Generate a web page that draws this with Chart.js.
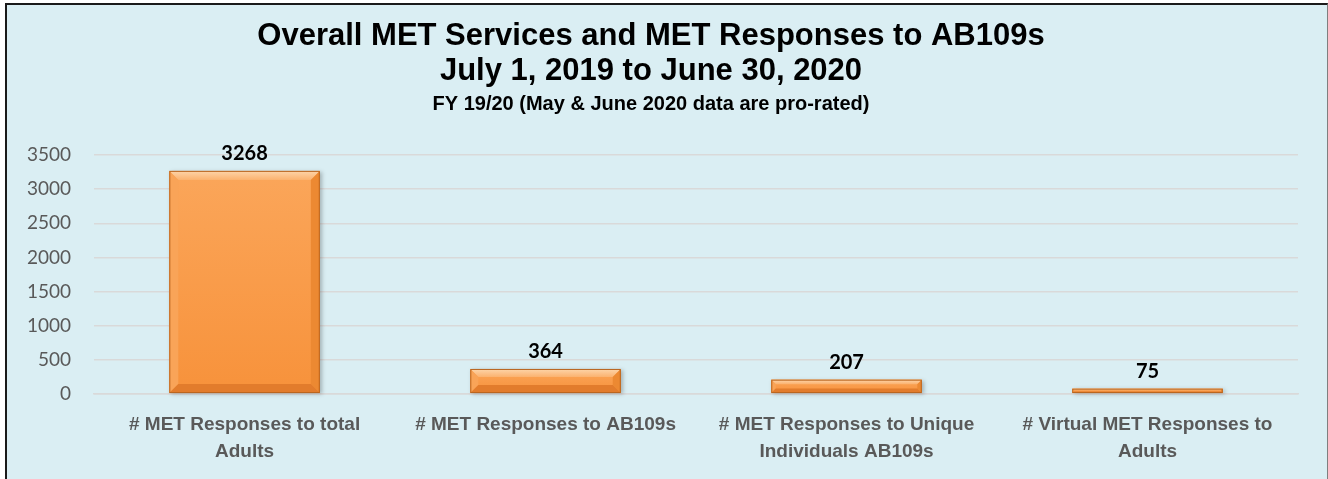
<!DOCTYPE html>
<html>
<head>
<meta charset="utf-8">
<script src="https://cdn.jsdelivr.net/npm/chart.js@4.4.1/dist/chart.umd.min.js"></script>
<style>
  html, body { margin: 0; padding: 0; background: #ffffff; width: 1328px; height: 479px; overflow: hidden; }
  #frame { position: absolute; left: 5px; top: 3px; width: 1323px; height: 490px; box-sizing: border-box;
           border: 2px solid #1a1a1a; border-right: 1px solid #7f7f7f; background: #DAEEF3; }
  #wrap { position: absolute; left: 0; top: 0; width: 1328px; height: 479px; }
</style>
</head>
<body>
<div id="frame"></div>
<div id="wrap"><canvas id="c" width="1328" height="479"></canvas></div>
<script>
const categories = [
  ["# MET Responses to total", "Adults"],
  ["# MET Responses to AB109s"],
  ["# MET Responses to Unique", "Individuals AB109s"],
  ["# Virtual MET Responses to", "Adults"]
];
const values = [3268, 364, 207, 75];
const yTicks = [0, 500, 1000, 1500, 2000, 2500, 3000, 3500];
const titleLines = ["Overall MET Services and MET Responses to AB109s", "July 1, 2019 to June 30, 2020"];
const subtitleText = "FY 19/20 (May & June 2020 data are pro-rated)";

const bevelPlugin = {
  id: 'bevel',
  afterDatasetsDraw(chart) {
    const ctx = chart.ctx;
    const meta = chart.getDatasetMeta(0);
    meta.data.forEach((bar) => {
      const w = bar.width;
      const l = bar.x - w / 2, r = bar.x + w / 2, t = bar.y, b = bar.base;
      const h = b - t;
      const e = Math.min(9, h / 3);
      ctx.save();
      ctx.shadowColor = 'rgba(0,0,0,0.25)';
      ctx.shadowBlur = 4;
      ctx.shadowOffsetX = 2;
      ctx.shadowOffsetY = 1;
      const g = ctx.createLinearGradient(0, t, 0, b);
      g.addColorStop(0, '#FBA65A');
      g.addColorStop(1, '#F7923B');
      ctx.fillStyle = g;
      ctx.fillRect(l, t, w, h);
      ctx.shadowColor = 'transparent';
      const gt = ctx.createLinearGradient(0, t, 0, t + e);
      gt.addColorStop(0, '#FDD5AA');
      gt.addColorStop(1, '#FBB26F');
      ctx.fillStyle = gt;
      ctx.beginPath(); ctx.moveTo(l, t); ctx.lineTo(r, t); ctx.lineTo(r - e, t + e); ctx.lineTo(l + e, t + e); ctx.closePath(); ctx.fill();
      ctx.fillStyle = '#F9A458';
      ctx.beginPath(); ctx.moveTo(l, t); ctx.lineTo(l + e, t + e); ctx.lineTo(l + e, b - e); ctx.lineTo(l, b); ctx.closePath(); ctx.fill();
      ctx.fillStyle = '#EC8932';
      ctx.beginPath(); ctx.moveTo(r, t); ctx.lineTo(r - e, t + e); ctx.lineTo(r - e, b - e); ctx.lineTo(r, b); ctx.closePath(); ctx.fill();
      ctx.fillStyle = '#E27C2C';
      ctx.beginPath(); ctx.moveTo(l, b); ctx.lineTo(r, b); ctx.lineTo(r - e, b - e); ctx.lineTo(l + e, b - e); ctx.closePath(); ctx.fill();
      ctx.strokeStyle = '#B9651F';
      ctx.lineWidth = 1;
      ctx.strokeRect(l + 0.5, t + 0.5, w - 1, h - 1);
      ctx.restore();
    });
  }
};

const labelPlugin = {
  id: 'valueLabels',
  afterDatasetsDraw(chart) {
    const ctx = chart.ctx;
    const meta = chart.getDatasetMeta(0);
    ctx.save();
    ctx.font = 'bold 20px Lato, "Liberation Sans", sans-serif';
    ctx.fillStyle = '#000000';
    ctx.textAlign = 'center';
    ctx.textBaseline = 'bottom';
    meta.data.forEach((bar, i) => {
      ctx.fillText(String(values[i]), bar.x, bar.y - 7);
    });
    ctx.restore();
  }
};

new Chart(document.getElementById('c'), {
  type: 'bar',
  data: {
    labels: categories,
    datasets: [{
      data: values,
      backgroundColor: '#F99B49',
      borderWidth: 0,
      barPercentage: 0.5,
      categoryPercentage: 1.0
    }]
  },
  options: {
    responsive: false,
    animation: false,
    layout: { padding: { left: 4, right: 30, top: 0, bottom: 4 } },
    plugins: {
      legend: { display: false },
      tooltip: { enabled: false },
      title: {
        display: true,
        text: titleLines,
        color: '#000000',
        font: { family: '"Liberation Sans", Arial, sans-serif', size: 31, weight: 'bold', lineHeight: 1.13 },
        padding: { top: 19, bottom: 3 }
      },
      subtitle: {
        display: true,
        text: subtitleText,
        color: '#000000',
        font: { family: '"Liberation Sans", Arial, sans-serif', size: 20, weight: 'bold', lineHeight: 1.2 },
        padding: { top: 0, bottom: 39 }
      }
    },
    scales: {
      x: {
        grid: { display: false },
        border: { display: true, color: '#D9D9D9', width: 1.5 },
        afterFit(axis) { axis.paddingLeft = 0; axis.paddingRight = 0; },
        ticks: {
          color: '#595959',
          font: { family: '"Liberation Sans", Arial, sans-serif', size: 19, weight: 'bold', lineHeight: 1.4 },
          padding: 10,
          maxRotation: 0, autoSkip: false
        }
      },
      y: {
        min: yTicks[0],
        max: yTicks[yTicks.length - 1],
        afterBuildTicks(axis) { axis.ticks = yTicks.map(v => ({ value: v })); },
        grid: { color: '#D9D9D9', lineWidth: 1.5, drawTicks: false },
        border: { display: false },
        ticks: {
          color: '#595959',
          font: { family: 'Lato, "Liberation Sans", sans-serif', size: 19 },
          padding: 23,
          callback: (v) => String(v)
        }
      }
    }
  },
  plugins: [bevelPlugin, labelPlugin]
});
</script>
</body>
</html>
